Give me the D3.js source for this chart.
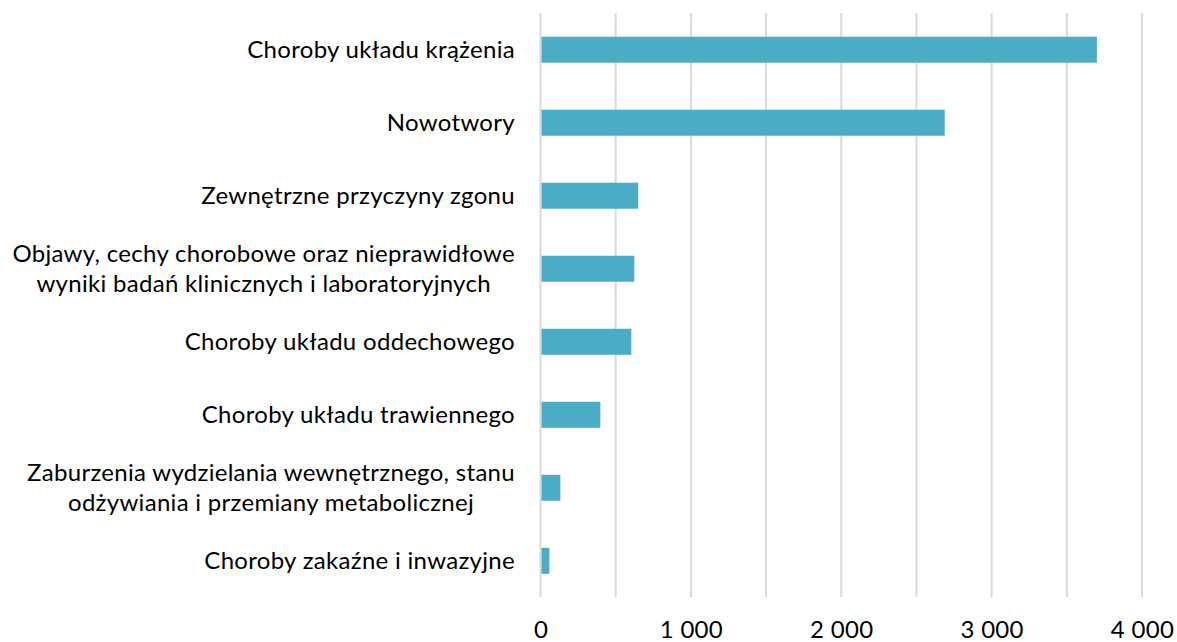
<!DOCTYPE html>
<html>
<head>
<meta charset="utf-8">
<script src="https://cdn.jsdelivr.net/npm/d3@7"></script>
<style>
  html, body { margin: 0; padding: 0; background: #fff; }
  svg { display: block; }
  text { font-family: "Lato", "Open Sans", sans-serif; fill: #000; }
</style>
</head>
<body>
<svg id="chart" width="1177" height="642"></svg>
<script>
const categories = [
  "Choroby układu krążenia",
  "Nowotwory",
  "Zewnętrzne przyczyny zgonu",
  "Objawy, cechy chorobowe oraz nieprawidłowe\nwyniki badań klinicznych i laboratoryjnych",
  "Choroby układu oddechowego",
  "Choroby układu trawiennego",
  "Zaburzenia wydzielania wewnętrznego, stanu\nodżywiania i przemiany metabolicznej",
  "Choroby zakaźne i inwazyjne"
];
const values = [3700, 2688, 650, 624, 604, 398, 132, 59];
const gridValues = [0, 500, 1000, 1500, 2000, 2500, 3000, 3500, 4000];
const tickValues = [0, 1000, 2000, 3000, 4000];

const svg = d3.select("#chart");
const fontSize = 24;
const letterSp = 0.3;
const x = d3.scaleLinear().domain([0, 4000]).range([540.5, 1142]);
const y = d3.scaleBand().domain(categories).range([13.2, 597.3])
  .paddingInner(0.644).paddingOuter(0.322);

// gridlines
svg.append("g").selectAll("line").data(gridValues).join("line")
  .attr("x1", d => x(d)).attr("x2", d => x(d))
  .attr("y1", 13).attr("y2", 597)
  .attr("stroke", "#d9d9d9").attr("stroke-width", 2);

// bars
svg.append("g").selectAll("rect").data(categories).join("rect")
  .attr("x", x(0) + 1)
  .attr("y", d => y(d))
  .attr("width", (d, i) => x(values[i]) - x(0) - 1)
  .attr("height", y.bandwidth())
  .attr("fill", "#4BACC6");

// x axis
const xAxis = d3.axisBottom(x).tickValues(tickValues).tickSize(0).tickPadding(0)
  .tickFormat(d => d3.format(",")(d).replace(/,/g, " "));
const gx = svg.append("g").attr("transform", "translate(0,638)").call(xAxis);
gx.select(".domain").remove();
gx.selectAll("text").attr("font-size", fontSize).attr("font-family", "Lato")
  .attr("letter-spacing", letterSp)
  .attr("y", 0).attr("dy", 0).attr("fill", "#000");

// y labels: block right-aligned at 515, wrapped lines centred within block
const rightEdge = 515;
const gy = svg.append("g");
categories.forEach(c => {
  const lines = c.split("\n");
  const lh = 30.5;
  const cy = y(c) + y.bandwidth() / 2;
  const t = gy.append("text")
    .attr("text-anchor", "middle")
    .attr("font-size", fontSize)
    .attr("letter-spacing", letterSp);
  const spans = lines.map((ln, k) => t.append("tspan")
      .attr("y", cy + (k - (lines.length - 1) / 2) * lh)
      .attr("dy", "0.35em")
      .text(ln));
  const maxW = d3.max(spans, s => s.node().getComputedTextLength());
  spans.forEach(s => s.attr("x", rightEdge - maxW / 2));
});
</script>
</body>
</html>
